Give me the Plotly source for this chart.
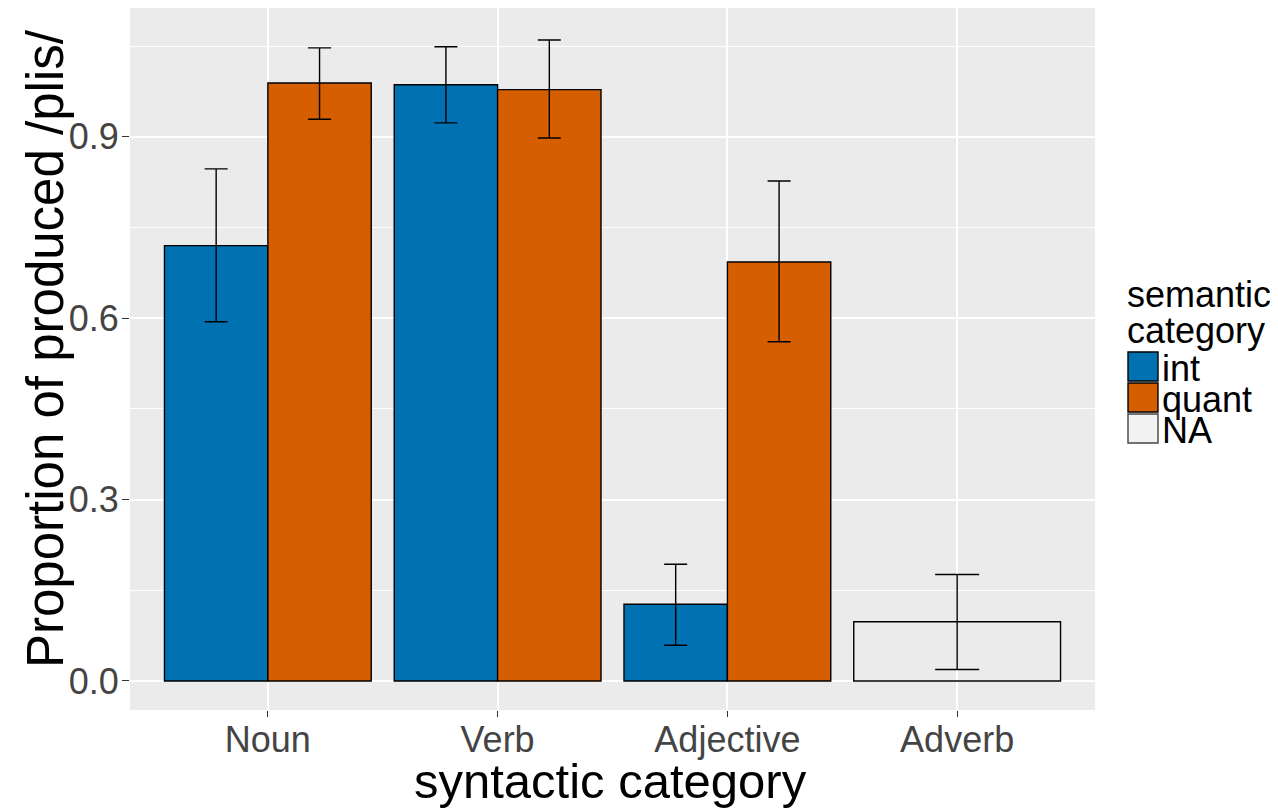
import plotly.graph_objects as go

categories = ["Noun", "Verb", "Adjective", "Adverb"]

int_cats = ["Noun", "Verb", "Adjective"]
int_vals = [0.720, 0.986, 0.127]
int_hi = [0.847, 1.049, 0.193]
int_lo = [0.594, 0.923, 0.059]

quant_cats = ["Noun", "Verb", "Adjective"]
quant_vals = [0.989, 0.978, 0.693]
quant_hi = [1.047, 1.060, 0.827]
quant_lo = [0.929, 0.898, 0.561]

na_cats = ["Adverb"]
na_vals = [0.098]
na_hi = [0.176]
na_lo = [0.019]

y_ticks = [0.0, 0.3, 0.6, 0.9]
y_ticktext = ["0.0", "0.3", "0.6", "0.9"]

legend_labels = ["int", "quant", "NA"]
legend_colors = ["#0072B2", "#D55E00", "#F2F2F2"]

# page body has an 8px margin; lay out in screen pixels and shift
OFF = 8
W, H = 1278 - OFF, 808 - OFF
L, T = 130 - OFF, 8 - OFF
R = W - (1095 - OFF)
B = H - (710 - OFF)
FONT = "Liberation Sans, Arial, sans-serif"
TICKCOL = "#444444"


def px_x(p):
    return (p - OFF - L) / (W - L - R)


def px_y(p):
    return (H - B - (p - OFF)) / (H - T - B)


def bar(name, cats, vals, hi, lo, color, offset, width, capw):
    return go.Bar(
        name=name, x=cats, y=vals, offset=offset, width=width,
        marker=dict(color=color, line=dict(color="black", width=1.4)),
        error_y=dict(type="data", symmetric=False,
                     array=[h - v for h, v in zip(hi, vals)],
                     arrayminus=[v - l for v, l in zip(vals, lo)],
                     color="black", thickness=1.4, width=capw),
        showlegend=False,
    )


fig = go.Figure()
fig.add_trace(bar("int", int_cats, int_vals, int_hi, int_lo, legend_colors[0], -0.45, 0.45, 11.5))
fig.add_trace(bar("quant", quant_cats, quant_vals, quant_hi, quant_lo, legend_colors[1], 0.0, 0.45, 11.5))
fig.add_trace(bar("NA", na_cats, na_vals, na_hi, na_lo, "rgba(0,0,0,0)", -0.45, 0.9, 22))

fig.update_layout(
    width=W, height=H,
    margin=dict(l=L, r=R, t=T, b=B, pad=0),
    paper_bgcolor="white", plot_bgcolor="#EBEBEB",
    barmode="overlay",
    font=dict(family=FONT, color="black"),
    xaxis=dict(
        type="category", categoryorder="array", categoryarray=categories,
        range=[-0.6, 3.6], showgrid=True, gridcolor="white", gridwidth=1.5,
        ticks="outside", ticklen=6, tickwidth=1.4, tickcolor="#333333",
        tickfont=dict(size=36, color=TICKCOL, family=FONT),
        ticklabelstandoff=-8,
        zeroline=False, showline=False,
    ),
    yaxis=dict(
        range=[-0.048, 1.113], tickvals=y_ticks, ticktext=y_ticktext,
        showgrid=True, gridcolor="white", gridwidth=1.5,
        minor=dict(dtick=0.15, tick0=0, showgrid=True, gridcolor="white", gridwidth=0.7),
        ticks="outside", ticklen=7, tickwidth=1.4, tickcolor="#333333",
        tickfont=dict(size=36, color=TICKCOL, family=FONT),
        ticklabelstandoff=-4,
        zeroline=False, showline=False,
    ),
)

# axis titles
fig.add_annotation(xref="paper", yref="paper", x=px_x(610), y=px_y(781),
                   xanchor="center", yanchor="middle", showarrow=False,
                   text="syntactic category", font=dict(size=49, color="black", family=FONT))
fig.add_annotation(xref="paper", yref="paper", x=px_x(45), y=px_y(349),
                   xanchor="center", yanchor="middle", showarrow=False, textangle=-90,
                   text="Proportion of produced /plis/", font=dict(size=51, color="black", family=FONT))

# legend drawn manually (ggplot-style keys)
key_x0, key_x1 = 1128, 1158
key_tops = [352, 383, 414]
key_h = 29
for lab, col, top in zip(legend_labels, legend_colors, key_tops):
    fig.add_shape(type="rect", xref="paper", yref="paper",
                  x0=px_x(key_x0), x1=px_x(key_x1), y0=px_y(top + key_h), y1=px_y(top),
                  fillcolor=col,
                  line=dict(color="black" if lab != "NA" else "#444444", width=1.4))
    fig.add_annotation(xref="paper", yref="paper", x=px_x(1160), y=px_y(top + key_h / 2 + 2),
                       xanchor="left", yanchor="middle", showarrow=False,
                       text=lab, font=dict(size=36, color="black", family=FONT))

fig.add_annotation(xref="paper", yref="paper", x=px_x(1125), y=px_y(294),
                   xanchor="left", yanchor="middle", showarrow=False,
                   text="semantic", font=dict(size=36, color="black", family=FONT))
fig.add_annotation(xref="paper", yref="paper", x=px_x(1125), y=px_y(330),
                   xanchor="left", yanchor="middle", showarrow=False,
                   text="category", font=dict(size=36, color="black", family=FONT))

fig.write_html("out.html")
